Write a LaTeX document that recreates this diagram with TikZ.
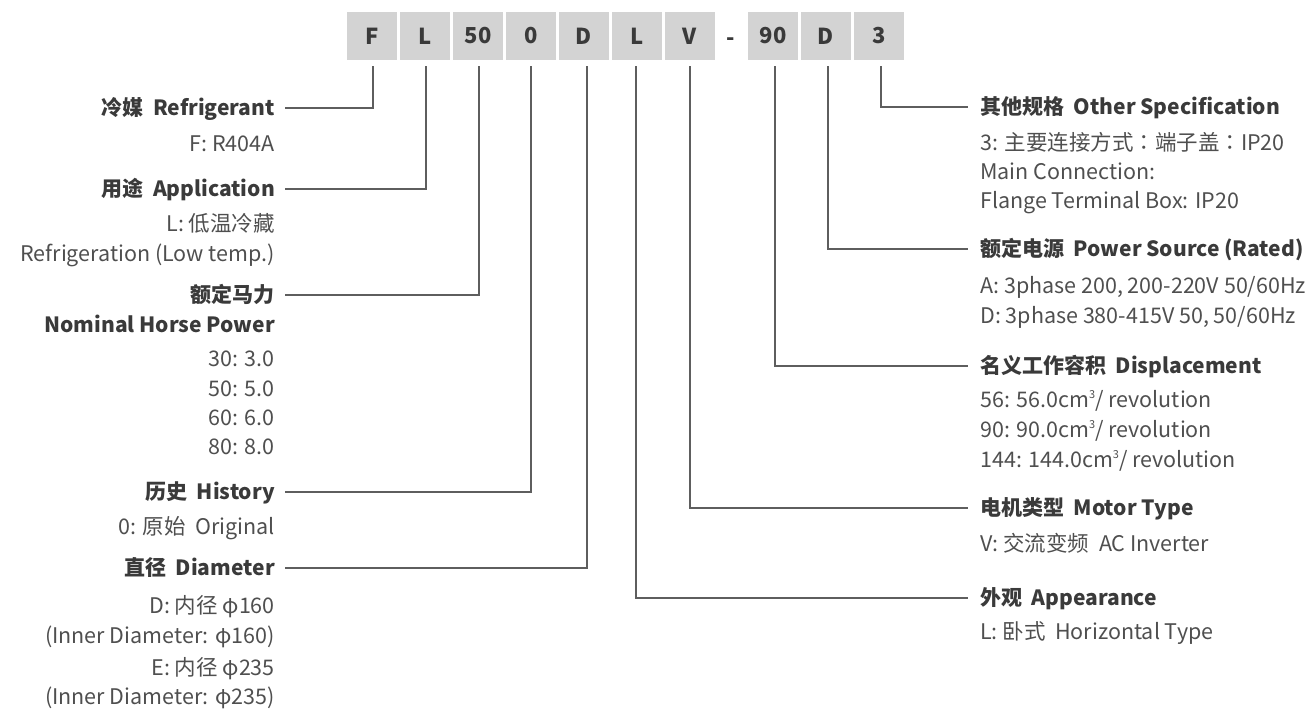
\documentclass[tikz,border=0pt]{standalone}
\usepackage{fontspec}
\setmainfont{Noto Sans CJK SC}
\newfontfamily\tcfont{Noto Sans CJK TC}
\newcommand{\fwcolon}{{\tcfont ：}}
\newcommand{\cubed}{\raisebox{0.8ex}{\fontsize{11}{11}\selectfont 3}}
\definecolor{boxfill}{HTML}{D3D3D3}
\definecolor{hdr}{HTML}{3A3A3A}
\definecolor{bodytxt}{HTML}{4F4F4F}
\definecolor{linec}{HTML}{5E5E5E}
\tikzset{
  code/.style={fill=boxfill, minimum width=50pt, minimum height=48pt, inner sep=0pt,
    font=\fontsize{22}{22}\selectfont\bfseries, text=hdr},
  hyphen/.style={inner sep=0pt, anchor=base, font=\fontsize{22}{22}\selectfont\bfseries, text=hdr},
  hdrL/.style={anchor=east, inner sep=0pt, text height=15pt, text depth=0pt,
    font=\fontsize{21}{21}\selectfont\bfseries, text=hdr},
  bodyL/.style={anchor=east, inner sep=0pt, text height=15pt, text depth=0pt,
    font=\fontsize{21.5}{21.5}\selectfont, text=bodytxt},
  hdrR/.style={hdrL, anchor=west},
  bodyR/.style={bodyL, anchor=west},
  conn/.style={draw=linec, line width=1.2pt},
}
\begin{document}
\begin{tikzpicture}[x=1pt,y=-1pt]
\useasboundingbox (0,0) rectangle (1309,709);
% code boxes
\node[code] (c1) at (372,36) {F};
\node[code] (c2) at (425,36) {L};
\node[code] (c3) at (478,36) {50};
\node[code] (c4) at (531,36) {0};
\node[code] (c5) at (584,36) {D};
\node[code] (c6) at (637,36) {L};
\node[code] (c7) at (690,36) {V};
\node[hyphen] (hy) at (731,46) {-};
\node[code] (c8) at (773,36) {90};
\node[code] (c9) at (826,36) {D};
\node[code] (c10) at (879,36) {3};

% left side
\node[hdrL] (hRef) at (275,108) {冷媒\ \ Refrigerant};
\node[bodyL] (bRef1) at (275,144) {F: R404A};

\node[hdrL] (hApp) at (275,189) {用途\ \ Application};
\node[bodyL] (bApp1) at (275,224) {L: 低温冷藏};
\node[bodyL] (bApp2) at (275,254) {Refrigeration (Low temp.)};

\node[hdrL] (hHP) at (275,295) {额定马力};
\node[hdrL] (hHP2) at (275,325) {Nominal Horse Power};
\node[bodyL] (bHP1) at (275,359) {30: 3.0};
\node[bodyL] (bHP2) at (275,389) {50: 5.0};
\node[bodyL] (bHP3) at (275,418) {60: 6.0};
\node[bodyL] (bHP4) at (275,447) {80: 8.0};

\node[hdrL] (hHis) at (275,492) {历史\ \ History};
\node[bodyL] (bHis1) at (275,527) {0: 原始\ \ Original};

\node[hdrL] (hDia) at (275,568) {直径\ \ Diameter};
\node[bodyL] (bDia1) at (275,606) {D: 内径 φ160};
\node[bodyL] (bDia2) at (275,636) {(Inner Diameter: φ160)};
\node[bodyL] (bDia3) at (275,668) {E: 内径 φ235};
\node[bodyL] (bDia4) at (275,697) {(Inner Diameter: φ235)};

% right side
\node[hdrR] (hOth) at (980,107) {其他规格\ \ Other Specification};
\node[bodyR] (bOth1) at (980,143) {3: 主要连接方式\fwcolon 端子盖\fwcolon IP20};
\node[bodyR] (bOth2) at (980,172) {Main Connection:};
\node[bodyR] (bOth3) at (980,201) {Flange Terminal Box: IP20};

\node[hdrR] (hPow) at (980,249) {额定电源\ \ Power Source (Rated)};
\node[bodyR] (bPow1) at (980,286) {A: 3phase 200, 200-220V 50/60Hz};
\node[bodyR] (bPow2) at (980,316) {D: 3phase 380-415V 50, 50/60Hz};

\node[hdrR] (hDis) at (980,366) {名义工作容积\ \ Displacement};
\node[bodyR] (bDis1) at (980,400) {56: 56.0cm\cubed/ revolution};
\node[bodyR] (bDis2) at (980,430) {90: 90.0cm\cubed/ revolution};
\node[bodyR] (bDis3) at (980,460) {144: 144.0cm\cubed/ revolution};

\node[hdrR] (hMot) at (980,508) {电机类型\ \ Motor Type};
\node[bodyR] (bMot1) at (980,544) {V: 交流变频\ \ AC Inverter};

\node[hdrR] (hApp2) at (980,598) {外观\ \ Appearance};
\node[bodyR] (bApp21) at (980,632) {L: 卧式\ \ Horizontal Type};

% connectors
\draw[conn] ([xshift=1pt,yshift=-6pt]c1.south) |- ([xshift=10pt]hRef.east);
\draw[conn] ([xshift=1pt,yshift=-6pt]c2.south) |- ([xshift=10pt]hApp.east);
\draw[conn] ([xshift=1pt,yshift=-6pt]c3.south) |- ([xshift=10pt]hHP.east);
\draw[conn] ([yshift=-6pt]c4.south) |- ([xshift=10pt]hHis.east);
\draw[conn] ([xshift=3pt,yshift=-6pt]c5.south) |- ([xshift=10pt]hDia.east);
\draw[conn] ([xshift=-1pt,yshift=-6pt]c6.south) |- ([xshift=-12pt]hApp2.west);
\draw[conn] ([yshift=-6pt]c7.south) |- ([xshift=-12pt]hMot.west);
\draw[conn] ([xshift=2pt,yshift=-6pt]c8.south) |- ([xshift=-12pt]hDis.west);
\draw[conn] ([xshift=2pt,yshift=-6pt]c9.south) |- ([xshift=-12pt]hPow.west);
\draw[conn] ([xshift=2pt,yshift=-6pt]c10.south) |- ([xshift=-12pt]hOth.west);
\end{tikzpicture}
\end{document}
